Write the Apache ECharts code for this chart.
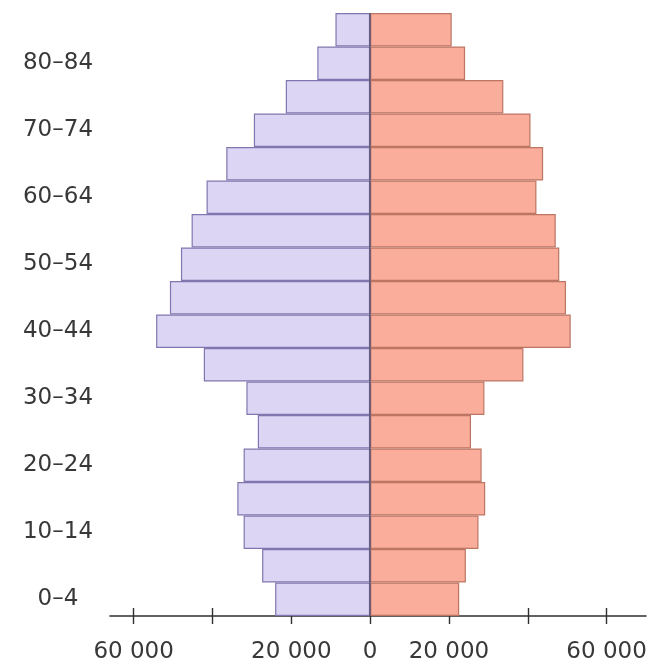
<!DOCTYPE html>
<html>
<head>
<meta charset="utf-8">
<script src="https://cdn.jsdelivr.net/npm/echarts@6/dist/echarts.min.js"></script>
<style>
html,body{margin:0;padding:0;background:#fff;}
#chart{width:664px;height:664px;}
</style>
</head>
<body>
<div id="chart"></div>
<script>
// Age groups (bottom to top)
var ageGroups = ['0–4','5–9','10–14','15–19','20–24','25–29','30–34','35–39','40–44','45–49','50–54','55–59','60–64','65–69','70–74','75–79','80–84','85+'];
// Left side (lavender) population
var leftValues = [24100, 27400, 32100, 33700, 32100, 28500, 31400, 42200, 54300, 50800, 48000, 45300, 41500, 36500, 29500, 21400, 13400, 8800];
// Right side (salmon) population
var rightValues = [22600, 24300, 27500, 29200, 28300, 25600, 29000, 38900, 50900, 49700, 48000, 47100, 42200, 43900, 40700, 33800, 24100, 20700];
// Axis ticks and labels
var tickValues = [-60000, -40000, -20000, 0, 20000, 40000, 60000];
var labelValues = [-60000, -20000, 0, 20000, 60000];

function fmt(v) {
  var a = Math.abs(v);
  if (a === 0) return '0';
  var s = String(a);
  return s.replace(/\B(?=(\d{3})+(?!\d))/g, ' ');
}

var font = 'DejaVu Sans';
var chart = echarts.init(document.getElementById('chart'), null, {renderer: 'canvas'});
chart.setOption({
  animation: false,
  backgroundColor: '#ffffff',
  grid: {left: 110, width: 536, top: 13, bottom: 48, containLabel: false},
  xAxis: [{
    type: 'value',
    min: -66000,
    max: 70000,
    position: 'bottom',
    splitLine: {show: false},
    axisLine: {show: true, onZero: false, lineStyle: {color: '#2e2e2e', width: 1.6}},
    axisTick: {show: true, length: 8, inside: false, customValues: tickValues, lineStyle: {color: '#2e2e2e', width: 1.4}},
    axisLabel: {show: true, customValues: labelValues, formatter: fmt, margin: 25, fontFamily: font, fontSize: 23, lineHeight: 23, color: '#383838'}
  }, {
    type: 'value',
    min: -66000,
    max: 70000,
    position: 'bottom',
    offset: 0,
    splitLine: {show: false},
    axisLine: {show: false, onZero: false},
    axisTick: {show: true, length: 8, inside: true, customValues: tickValues, lineStyle: {color: '#2e2e2e', width: 1.4}},
    axisLabel: {show: false}
  }],
  yAxis: {
    type: 'category',
    data: ageGroups,
    axisLine: {show: false},
    axisTick: {show: false},
    splitLine: {show: false},
    axisLabel: {interval: 1, align: 'center', margin: 52, fontFamily: font, fontSize: 23, color: '#383838'}
  },
  series: [{
    name: 'left',
    type: 'bar',
    xAxisIndex: 0,
    data: leftValues.map(function (v) { return -v; }),
    barCategoryGap: 0,
    barGap: '-100%',
    itemStyle: {color: '#dcd5f3', borderColor: '#8177b0', borderWidth: 1.2}
  }, {
    name: 'right',
    type: 'bar',
    xAxisIndex: 0,
    data: rightValues,
    barCategoryGap: 0,
    barGap: '-100%',
    itemStyle: {color: '#f9ad9a', borderColor: '#bd7664', borderWidth: 1.2},
    markLine: {
      silent: true,
      symbol: 'none',
      label: {show: false},
      lineStyle: {color: '#5b5370', width: 1.5, type: 'solid'},
      data: [{xAxis: 0}]
    }
  }]
});
</script>
</body>
</html>
